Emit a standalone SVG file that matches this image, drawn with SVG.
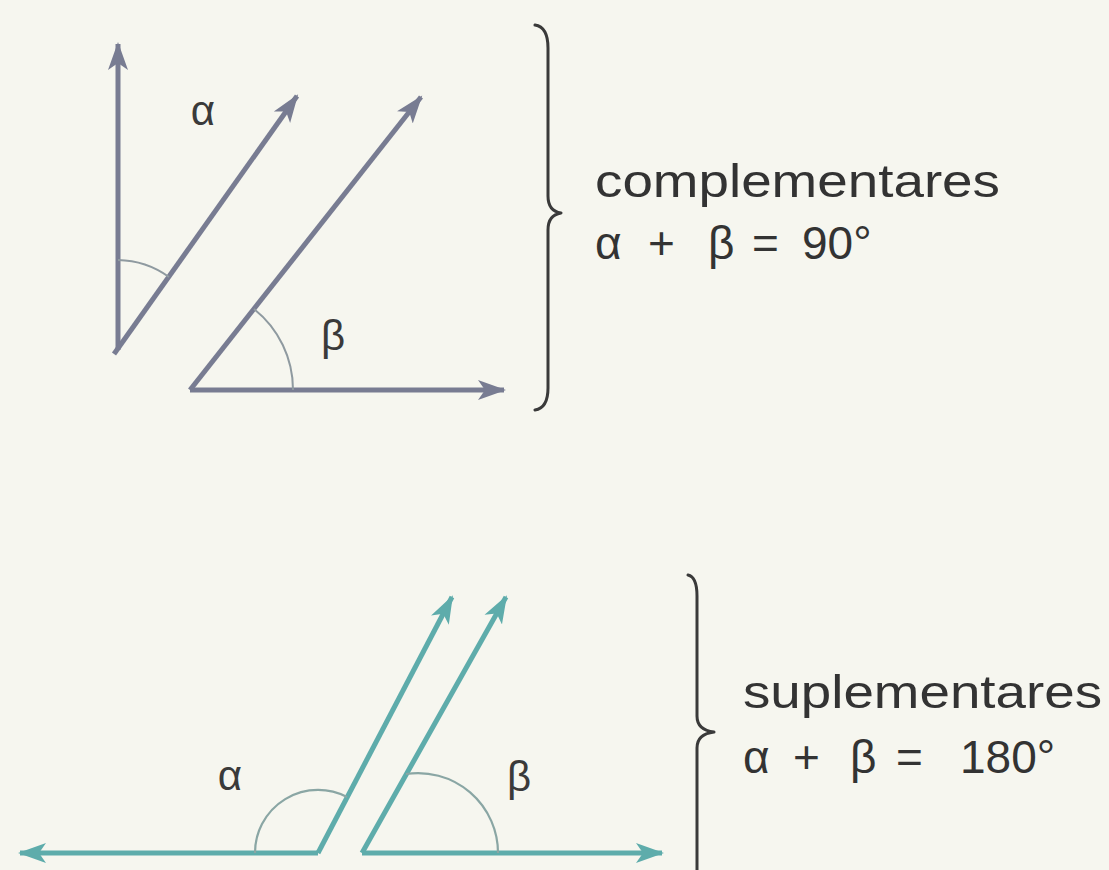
<svg xmlns="http://www.w3.org/2000/svg" width="1109" height="870" viewBox="0 0 1109 870">
<style>
.bg{fill:#f6f6ef}
.top{stroke:#787c92;stroke-width:5;fill:none;stroke-linecap:butt}
.bot{stroke:#5eacab;stroke-width:5;fill:none}
.arcT{stroke:#8f9aa0;stroke-width:2;fill:none}
.arcB{stroke:#8aa6a4;stroke-width:2.2;fill:none}
.brace{stroke:#3a3a3a;stroke-width:3;fill:none;stroke-linecap:round;stroke-linejoin:round}
.lbl{font-family:"Liberation Sans","DejaVu Sans",sans-serif;font-size:42px;fill:#3a3a3a;text-anchor:middle}
.txt{font-family:"Liberation Sans","DejaVu Sans",sans-serif;font-size:46px;fill:#333}
</style>
<defs>
<marker id="ahT" markerUnits="userSpaceOnUse" markerWidth="30" markerHeight="24" viewBox="0 0 30 24" refX="26" refY="12" orient="auto">
<path d="M0,2 L28,12 L0,22 L7,12 Z" fill="#787c92"/>
</marker>
<marker id="ahB" markerUnits="userSpaceOnUse" markerWidth="30" markerHeight="24" viewBox="0 0 30 24" refX="26" refY="12" orient="auto">
<path d="M0,2 L28,12 L0,22 L7,12 Z" fill="#5eacab"/>
</marker>
</defs>
<rect class="bg" x="0" y="0" width="1109" height="870"/>

<g id="connectors">
<line class="top" x1="118" y1="350" x2="118" y2="44" marker-end="url(#ahT)"/>
<line class="top" x1="114" y1="354" x2="297" y2="96" marker-end="url(#ahT)"/>
<line class="top" x1="190" y1="390" x2="421" y2="97" marker-end="url(#ahT)"/>
<line class="top" x1="190" y1="390" x2="504" y2="390" marker-end="url(#ahT)"/>
<line class="bot" x1="318" y1="853" x2="20" y2="853" marker-end="url(#ahB)"/>
<line class="bot" x1="318" y1="853" x2="452" y2="597" marker-end="url(#ahB)"/>
<line class="bot" x1="362" y1="853" x2="506" y2="597" marker-end="url(#ahB)"/>
<line class="bot" x1="362" y1="853" x2="662" y2="853" marker-end="url(#ahB)"/>
</g>

<g id="angles-top">
<path class="arcT" d="M118,260 A90,90 0 0 1 169,277"/>
<path class="arcT" d="M254,309 A103,103 0 0 1 293,390"/>
<text class="lbl" x="203" y="125">α</text>
<text class="lbl" x="333" y="350">β</text>
</g>

<g id="angles-bottom">
<path class="arcB" d="M255,853 A63,63 0 0 1 347,797"/>
<path class="arcB" d="M406,774 A80,80 0 0 1 498,853"/>
<text class="lbl" x="230" y="790">α</text>
<text class="lbl" x="519" y="791">β</text>
</g>

<g id="complementares">
<path class="brace" d="M535,25 Q548,27 548,48 L548,196 Q548,211 561,213 Q548,215 548,230 L548,388 Q548,408 535,410"/>
<text class="txt" x="595" y="197" textLength="405" lengthAdjust="spacingAndGlyphs">complementares</text>
<text class="txt" y="259"><tspan x="595">α</tspan><tspan x="648">+</tspan><tspan x="708">β</tspan><tspan x="752">=</tspan><tspan x="802">90°</tspan></text>
</g>

<g id="suplementares">
<path class="brace" d="M688,575 Q697,577 697,596 L697,716 Q697,730 714,732 Q697,734 697,748 L697,872"/>
<text class="txt" x="743" y="708" textLength="359" lengthAdjust="spacingAndGlyphs">suplementares</text>
<text class="txt" y="773"><tspan x="743">α</tspan><tspan x="793">+</tspan><tspan x="850">β</tspan><tspan x="896">=</tspan><tspan x="960">180°</tspan></text>
</g>
</svg>
